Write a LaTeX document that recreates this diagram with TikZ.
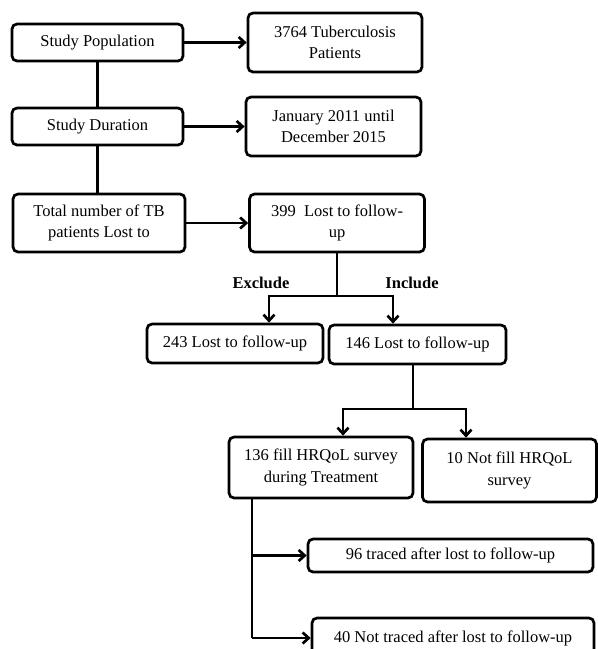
\documentclass[tikz,border=0pt]{standalone}
\usepackage{fontspec}
\setmainfont{Liberation Serif}
\usetikzlibrary{arrows.meta}
\tikzset{box/.style={draw,rounded corners=5pt,line width=2.7pt,align=center,
    inner sep=2pt,font=\fontsize{16.5}{21.5}\selectfont},
  arr/.style={line width=2.7pt,-{Straight Barb[length=6pt,width=11pt,line width=2.7pt]}},
  lin/.style={line width=2.7pt},
  tag/.style={font=\fontsize{16.5}{20}\selectfont\bfseries}}
\def\bx#1#2#3#4#5{\node[box,minimum width=#3,minimum height=#4] (#1) at #2 {#5};}

\begin{document}
\begin{tikzpicture}[x=1pt,y=-1pt]
\clip (0,0) rectangle (598,649);
\bx{pop}{(97.5,42.5)}{171pt}{37pt}{Study Population}
\bx{dur}{(97.5,126.5)}{171pt}{37pt}{Study Duration}
\bx{tot}{(99,223)}{172pt}{58pt}{Total number of TB\\patients Lost to}
\bx{pat}{(335,42.5)}{174pt}{59pt}{3764 Tuberculosis\\Patients}
\bx{per}{(333.5,126.5)}{175pt}{59pt}{January 2011 until\\December 2015}
\bx{ltf}{(337,223)}{175pt}{58pt}{399\ \ Lost to follow-\\up}
\bx{exc}{(235,343.5)}{176pt}{39pt}{243 Lost to follow-up}
\bx{inc}{(417.5,344.5)}{177pt}{39pt}{146 Lost to follow-up}
\bx{fil}{(321,467.5)}{184pt}{61pt}{136 fill HRQoL survey\\during Treatment}
\bx{nof}{(509.5,470.5)}{174pt}{63pt}{10 Not fill HRQoL\\survey}
\bx{trc}{(450.5,555.5)}{285pt}{33pt}{96 traced after lost to follow-up}
\bx{ntr}{(453,638)}{282pt}{40pt}{40 Not traced after lost to follow-up}
\node[tag] (ex) at (261,283) {Exclude};
\node[tag] (in) at (412,283) {Include};
% top row
\draw[arr] (pop) -- (pat);
\draw[arr] (dur) -- (per);
\draw[arr] (tot) -- (ltf);
\draw[lin] (pop.south) -- (dur.north);
\draw[lin] (dur.south) -- (dur.south |- tot.north);
% split 399
\coordinate (s1) at (337,296);
\coordinate (e1) at (269,296);
\coordinate (i1) at (393,296);
\draw[lin] (ltf.south) -- (s1);
\draw[arr] (s1) -- (e1) -- (e1 |- exc.north);
\draw[arr] (s1) -- (i1) -- (i1 |- inc.north);
% split 146
\coordinate (s2) at (413,409);
\coordinate (f1) at (343,409);
\coordinate (n1) at (466,409);
\draw[lin] (s2 |- inc.south) -- (s2);
\draw[arr] (s2) -- (f1) -- (f1 |- fil.north);
\draw[arr] (s2) -- (n1) -- (n1 |- nof.north);
% traced
\coordinate (t1) at (252,498);
\draw[lin] (t1) -- (t1 |- ntr.west);
\draw[arr] (t1 |- trc.west) -- (trc.west);
\draw[arr] (t1 |- ntr.west) -- (ntr.west);
\end{tikzpicture}
\end{document}
